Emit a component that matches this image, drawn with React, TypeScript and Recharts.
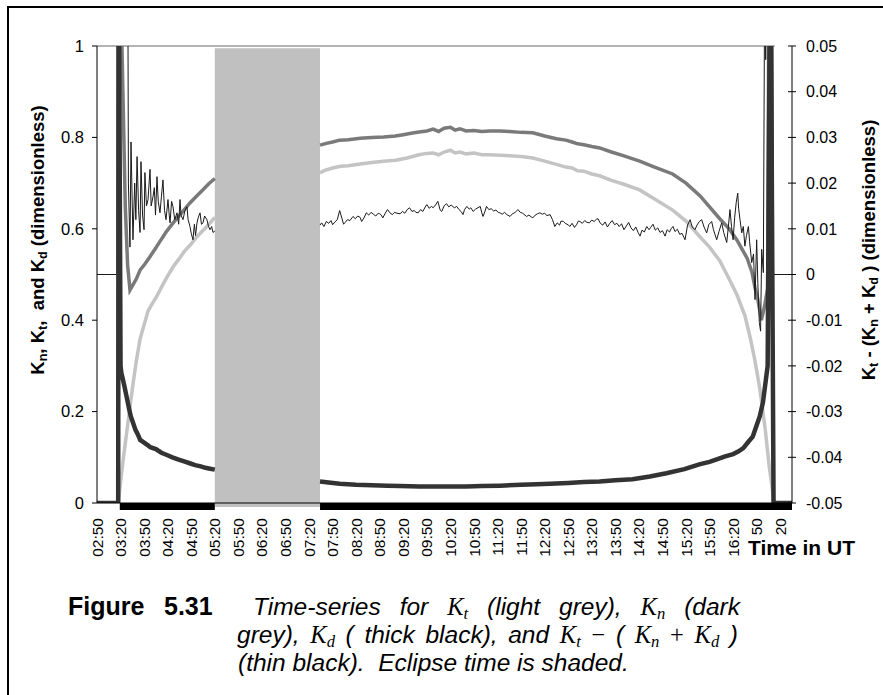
import {
  ComposedChart,
  Line,
  XAxis,
  YAxis,
  ReferenceArea,
  ReferenceLine,
} from "recharts";

// x values are minutes after 02:50 UT
const TICK_MINUTES = [
  0, 30, 60, 90, 120, 150, 180, 210, 240, 270, 300, 330, 360, 390, 420, 450, 480,
  510, 540, 570, 600, 630, 660, 690, 720, 750, 780, 810, 840, 870,
];
const TIME_LABELS = [
  "02:50", "03:20", "03:50", "04:20", "04:50", "05:20", "05:50", "06:20", "06:50",
  "07:20", "07:50", "08:20", "08:50", "09:20", "09:50", "10:20", "10:50", "11:20",
  "11:50", "12:20", "12:50", "13:20", "13:50", "14:20", "14:50", "15:20", "15:50",
  "16:20", "50", "20",
];
const LEFT_TICKS = [0, 0.2, 0.4, 0.6, 0.8, 1];
const RIGHT_TICKS = [-0.05, -0.04, -0.03, -0.02, -0.01, 0, 0.01, 0.02, 0.03, 0.04, 0.05];

const X_END = 885;
const ECLIPSE_START = 150;
const ECLIPSE_END = 284;
const SUNRISE_BAR = 29;
const TOP_LINE_END = 863;

// Kt (light grey)
const KT: [number, number | null][] = [
  [27, 0], [29, 0.03], [31, 0.06], [33, 0.09], [36, 0.13], [39, 0.17], [42, 0.21],
  [45, 0.25], [50, 0.31], [55, 0.36], [60, 0.39], [65, 0.42], [70, 0.435], [76, 0.452],
  [83, 0.475], [90, 0.497], [97, 0.517], [104, 0.533], [111, 0.55], [119, 0.565],
  [126, 0.58], [133, 0.593], [140, 0.605], [146, 0.617], [150, 0.625], [217, null],
  [284, 0.722], [290, 0.728], [300, 0.733], [310, 0.737], [320, 0.738], [335, 0.742],
  [350, 0.745], [365, 0.748], [380, 0.75], [395, 0.755], [410, 0.762], [420, 0.765],
  [428, 0.766], [435, 0.762], [442, 0.768], [450, 0.772], [456, 0.766], [462, 0.768],
  [470, 0.764], [480, 0.766], [490, 0.762], [500, 0.762], [513, 0.761], [525, 0.76],
  [540, 0.758], [555, 0.755], [570, 0.748], [585, 0.741], [597, 0.735], [605, 0.733],
  [612, 0.727], [620, 0.726], [630, 0.72], [640, 0.716], [655, 0.706], [670, 0.698],
  [691, 0.685], [710, 0.665], [733, 0.641], [750, 0.617], [768, 0.582], [780, 0.56],
  [793, 0.53], [805, 0.49], [815, 0.455], [825, 0.41], [832, 0.36], [838, 0.31],
  [844, 0.25], [851, 0.16], [856, 0.08], [860, 0.03], [862, 0],
];

// Kn (dark grey)
const KN: [number, number | null][] = [
  [28, 1.3], [33, 0.9], [36, 0.65], [39, 0.52], [42, 0.466], [45, 0.475], [50, 0.49],
  [55, 0.51], [61, 0.523], [67, 0.538], [74, 0.556], [80, 0.572], [88, 0.593],
  [97, 0.613], [107, 0.633], [118, 0.656], [126, 0.67], [134, 0.684], [142, 0.698],
  [150, 0.71], [217, null],
  [284, 0.783], [292, 0.787], [300, 0.79], [309, 0.794], [320, 0.795], [335, 0.798],
  [350, 0.8], [365, 0.801], [380, 0.803], [390, 0.806], [400, 0.809], [410, 0.812],
  [420, 0.814], [428, 0.818], [435, 0.813], [442, 0.82], [450, 0.822], [456, 0.816],
  [462, 0.819], [470, 0.814], [480, 0.815], [490, 0.813], [500, 0.814], [513, 0.814],
  [525, 0.813], [540, 0.811], [555, 0.81], [570, 0.803], [585, 0.797], [597, 0.794],
  [605, 0.79], [612, 0.786], [620, 0.784], [630, 0.78], [640, 0.777], [655, 0.768],
  [670, 0.76], [691, 0.748], [710, 0.735], [733, 0.72], [750, 0.7], [768, 0.672],
  [780, 0.648], [793, 0.622], [805, 0.6], [815, 0.575], [828, 0.535], [834, 0.505],
  [838, 0.47], [841, 0.45], [843, 0.43], [846, 0.4], [848, 0.415], [850, 0.43],
  [854, 0.47], [856, 1.3],
];

// Kd (thick black)
const KD: [number, number | null][] = [
  [0, 0], [27, 0], [27.5, 1.3], [30, 0.3], [31, 0.285], [33, 0.27], [35, 0.255],
  [38, 0.23], [41, 0.205], [43, 0.19], [46, 0.175], [49, 0.16], [52, 0.15], [55, 0.138],
  [60, 0.132], [65, 0.126], [68, 0.122], [75, 0.118], [82, 0.11], [89, 0.105], [96, 0.1],
  [104, 0.095], [111, 0.091], [118, 0.087], [125, 0.083], [132, 0.08], [138, 0.077],
  [144, 0.075], [150, 0.073], [217, null],
  [284, 0.047], [295, 0.045], [309, 0.042], [330, 0.04], [350, 0.039], [370, 0.038],
  [386, 0.037], [410, 0.036], [430, 0.036], [450, 0.036], [470, 0.036], [490, 0.037],
  [513, 0.038], [540, 0.04], [560, 0.041], [577, 0.042], [600, 0.044], [620, 0.046],
  [640, 0.047], [660, 0.05], [682, 0.052], [704, 0.058], [725, 0.065], [748, 0.074],
  [768, 0.085], [780, 0.09], [790, 0.096], [800, 0.102], [810, 0.107], [817, 0.113],
  [823, 0.12], [830, 0.135], [835, 0.145], [840, 0.17], [844, 0.19], [848, 0.22],
  [851, 0.26], [854, 0.3], [857.5, 1.3], [861.5, 0], [885, 0],
];

// Kt - (Kn + Kd) (thin black, right axis)
const KDIFF: [number, number | null][] = [
  [0, 0], [25.5, 0], [26, 0.08], [39, 0.08], [40, 0.02], [42, 0.006], [43.3, 0.029],
  [45.8, 0.0076], [48, 0.02], [49.5, 0.012], [51, 0.0258], [53, 0.014], [54.8, 0.0092],
  [56, 0.0247], [58, 0.013], [59.9, 0.0098], [61, 0.0223], [63, 0.015], [65, 0.0164],
  [67.5, 0.023], [69, 0.015], [71.3, 0.017], [73, 0.019], [74.5, 0.013], [76.4, 0.0214],
  [78, 0.016], [80.2, 0.0135], [82, 0.017], [84, 0.0207], [86, 0.014], [87.9, 0.012],
  [90.4, 0.0164], [92, 0.013], [93, 0.0113], [95, 0.016], [96.8, 0.0148], [99, 0.012],
  [101.9, 0.0135], [104, 0.011], [105.7, 0.0164], [107, 0.013], [109.5, 0.012],
  [112, 0.014], [114.6, 0.0148], [116, 0.012], [118.4, 0.0105], [120, 0.009],
  [122.2, 0.0076], [124, 0.011], [125.5, 0.0085], [127.3, 0.0113], [129, 0.0125],
  [131.2, 0.0135], [133, 0.011], [135, 0.0113], [137, 0.0128], [140, 0.012],
  [142, 0.0105], [144, 0.0098], [146, 0.0105], [147.7, 0.0092], [150, 0.0095], [217, null],
  [284, 0.0108], [286, 0.0113], [289, 0.0105], [292, 0.0116], [295, 0.0112], [298, 0.0118],
  [300, 0.0109], [303, 0.0115], [306, 0.012], [309, 0.014], [312, 0.0122], [314, 0.011],
  [316, 0.0114], [319, 0.012], [322, 0.0118], [326, 0.0127], [329, 0.0122], [332, 0.0128],
  [335, 0.0125], [337, 0.0116], [340, 0.0124], [343, 0.0135], [346, 0.013], [349, 0.0136],
  [352, 0.0132], [355, 0.0128], [358, 0.0134], [360, 0.0133], [362, 0.013], [364, 0.0124],
  [367, 0.0134], [370, 0.0142], [373, 0.0135], [376, 0.0131], [379, 0.0136], [382, 0.0134],
  [386, 0.0133], [389, 0.0138], [392, 0.0134], [395, 0.0142], [398, 0.0146], [401, 0.0138],
  [404, 0.014], [406, 0.0136], [409, 0.0135], [412, 0.0142], [415, 0.0138], [418, 0.0148],
  [420, 0.0153], [423, 0.0145], [426, 0.0149], [428, 0.0146], [431, 0.0152], [434, 0.016],
  [437, 0.0141], [439, 0.0138], [442, 0.015], [445, 0.0155], [448, 0.0148], [451, 0.0152],
  [455, 0.0146], [458, 0.0149], [461, 0.0142], [464, 0.0137], [466, 0.0131], [468, 0.0142],
  [471, 0.0149], [474, 0.0143], [476, 0.0146], [479, 0.0138], [482, 0.0143], [485, 0.0146],
  [488, 0.0149], [490, 0.0135], [491.5, 0.0127], [494, 0.0138], [496, 0.0149], [499, 0.0142],
  [502, 0.0144], [505, 0.0139], [508, 0.0141], [511, 0.0136], [513, 0.0135], [516, 0.0132],
  [519, 0.0136], [522, 0.0131], [526, 0.0127], [529, 0.0133], [532, 0.0135], [536, 0.0142],
  [539, 0.0136], [542, 0.0134], [545, 0.013], [547, 0.0127], [550, 0.013], [553, 0.0126],
  [555, 0.0124], [558, 0.013], [561, 0.0133], [564, 0.0135], [567, 0.0132], [570, 0.0134],
  [573, 0.0129], [577, 0.0131], [580, 0.012], [583, 0.0105], [586, 0.0113], [589, 0.0108],
  [591, 0.0117], [594, 0.0116], [597, 0.0111], [600, 0.0109], [602, 0.0105], [605, 0.0112],
  [608, 0.0103], [611, 0.011], [613, 0.0117], [615, 0.0116], [618, 0.0112], [621, 0.0118],
  [624, 0.0114], [627, 0.0113], [630, 0.0119], [633, 0.0116], [636, 0.0121], [638, 0.0122],
  [641, 0.0112], [644, 0.0108], [647, 0.0115], [650, 0.0104], [653, 0.0112], [656, 0.0118],
  [659, 0.0109], [662, 0.0112], [665, 0.0105], [668, 0.0111], [671, 0.0098], [674, 0.0106],
  [677, 0.0114], [680, 0.0102], [683, 0.0096], [686, 0.0104], [689, 0.0092], [691.5, 0.0084],
  [694, 0.0097], [697, 0.0093], [700, 0.0105], [703, 0.0098], [705, 0.0103], [708, 0.011],
  [711, 0.0097], [714, 0.0102], [717, 0.0092], [720, 0.0096], [723.4, 0.0084], [726, 0.0098],
  [729, 0.0093], [731, 0.01], [733.5, 0.0105], [736, 0.0094], [739, 0.0099], [742, 0.0088],
  [745, 0.009], [748.8, 0.0076], [752, 0.0108], [755.2, 0.012], [758, 0.0104], [761.5, 0.0098],
  [764, 0.0108], [767, 0.0116], [770, 0.012], [773, 0.0104], [776.4, 0.0091], [779, 0.0109],
  [782.7, 0.0116], [785, 0.0098], [789.1, 0.0076], [792, 0.0094], [795.5, 0.0113],
  [798, 0.0092], [801.9, 0.007], [804, 0.0105], [806, 0.0142], [808, 0.0105], [810, 0.0076],
  [812, 0.0125], [814, 0.0158], [815.9, 0.0178], [817, 0.0145], [818.8, 0.012], [821, 0.0091],
  [823, 0.0105], [825, 0.0062], [827, 0.0085], [829.5, 0.0105], [831, 0.0072],
  [833.7, 0.0026], [836, 0.0045], [837.9, -0.0055], [840, 0.0076], [841.5, -0.002],
  [843.4, -0.0105], [845, -0.0124], [846.4, 0.0055], [848.5, 0.0004], [850.6, 0.08],
  [851.5, 0.047], [852.5, 0.08], [860, 0.08], [861.5, 0], [885, 0],
];

const SANS = '"Liberation Sans", Arial, Helvetica, sans-serif';
const SERIF = '"Liberation Serif", "Times New Roman", serif';

const rows = (pairs: [number, number | null][]) => pairs.map(([m, v]) => ({ m, v }));

const TimeTick = ({ x, y, payload }: any) => {
  const label = TIME_LABELS[TICK_MINUTES.indexOf(payload.value)];
  const ty = y + 15;
  return (
    <text
      x={x}
      y={ty}
      dy="0.36em"
      transform={`rotate(-90, ${x}, ${ty})`}
      textAnchor="end"
      fontSize={15.5}
      fontFamily={SANS}
      fill="#000"
    >
      {label}
    </text>
  );
};

const RightTick = ({ x, y, payload }: any) => (
  <g>
    <line x1={x - 4} x2={x + 4} y1={y} y2={y} stroke="#000" strokeWidth={1} />
    <text x={x + 14} y={y} dy="0.36em" fontSize={16} fontFamily={SANS} fill="#000">
      {payload.value === 0 ? "0" : String(Number(payload.value.toFixed(2)))}
    </text>
  </g>
);

const BaseBar = (props: any) => (
  <line
    x1={props.x1}
    x2={props.x2}
    y1={props.y1 + 3.5}
    y2={props.y2 + 3.5}
    stroke="#000"
    strokeWidth={7}
  />
);

const Sub = ({ children }: { children: string }) => (
  <span style={{ fontSize: "0.68em", position: "relative", top: "0.22em", lineHeight: 1 }}>
    {children}
  </span>
);

const K = ({ s }: { s: string }) => (
  <span style={{ fontFamily: SERIF, fontStyle: "italic", lineHeight: 1 }}>
    K<Sub>{s}</Sub>
  </span>
);

const captionLine = {
  position: "absolute" as const,
  fontStyle: "italic",
  fontSize: 24.5,
  lineHeight: "24px",
  height: 24,
};

export default function App() {
  return (
    <div
      style={{
        position: "absolute",
        left: 0,
        top: 0,
        width: 883,
        height: 695,
        overflow: "hidden",
        background: "#fff",
        fontFamily: SANS,
      }}
    >
      <div
        style={{
          position: "absolute",
          left: 7,
          top: 6,
          width: 900,
          height: 720,
          borderLeft: "2px solid #000",
          borderTop: "2px solid #000",
        }}
      />
      <div style={{ position: "absolute", left: 0, top: 0 }}>
        <ComposedChart
          width={883}
          height={695}
          margin={{ top: 46, right: 0, bottom: 0, left: 0 }}
        >
          <XAxis
            dataKey="m"
            type="number"
            domain={[0, X_END]}
            ticks={TICK_MINUTES}
            interval={0}
            allowDataOverflow
            height={192}
            tickSize={0}
            tickMargin={0}
            tickLine={false}
            axisLine={{ stroke: "#000", strokeWidth: 1 }}
            tick={<TimeTick />}
          />
          <YAxis
            yAxisId="left"
            orientation="left"
            width={97}
            domain={[0, 1]}
            ticks={LEFT_TICKS}
            allowDataOverflow
            tickSize={5}
            tickMargin={8}
            tickLine={{ stroke: "#000" }}
            axisLine={{ stroke: "#000" }}
            tick={{ fontSize: 16.5, fill: "#000", fontFamily: SANS }}
          />
          <YAxis
            yAxisId="right"
            orientation="right"
            width={91}
            domain={[-0.05, 0.05]}
            ticks={RIGHT_TICKS}
            allowDataOverflow
            tickSize={0}
            tickMargin={0}
            tickLine={false}
            axisLine={{ stroke: "#000" }}
            tick={<RightTick />}
          />
          <ReferenceLine
            yAxisId="left"
            segment={[{ x: 0, y: 1 }, { x: TOP_LINE_END, y: 1 }]}
            stroke="#9a9a9a"
            strokeWidth={1.5}
          />
          <Line
            yAxisId="left"
            data={rows(KT)}
            dataKey="v"
            stroke="#c4c4c4"
            strokeWidth={3.5}
            dot={false}
            activeDot={false}
            isAnimationActive={false}
          />
          <Line
            yAxisId="left"
            data={rows(KN)}
            dataKey="v"
            stroke="#7a7a7a"
            strokeWidth={3.5}
            dot={false}
            activeDot={false}
            isAnimationActive={false}
          />
          <Line
            yAxisId="right"
            data={rows(KDIFF)}
            dataKey="v"
            stroke="#1a1a1a"
            strokeWidth={1}
            dot={false}
            activeDot={false}
            isAnimationActive={false}
          />
          <Line
            yAxisId="left"
            data={rows(KD)}
            dataKey="v"
            stroke="#333"
            strokeWidth={4.5}
            dot={false}
            activeDot={false}
            isAnimationActive={false}
          />
          <ReferenceLine
            yAxisId="left"
            segment={[{ x: SUNRISE_BAR, y: 0 }, { x: ECLIPSE_START, y: 0 }]}
            shape={BaseBar}
          />
          <ReferenceLine
            yAxisId="left"
            segment={[{ x: ECLIPSE_END, y: 0 }, { x: X_END, y: 0 }]}
            shape={BaseBar}
          />
          <ReferenceArea
            yAxisId="left"
            x1={ECLIPSE_START}
            x2={ECLIPSE_END}
            y1={-0.009}
            y2={0.995}
            fill="#c0c0c0"
            fillOpacity={1}
            stroke="none"
            ifOverflow="visible"
          />
        </ComposedChart>
      </div>

      <div
        style={{
          position: "absolute",
          left: 38,
          top: 240,
          transform: "translate(-50%, -50%) rotate(-90deg)",
          whiteSpace: "nowrap",
          fontWeight: "bold",
          fontSize: 18.5,
          lineHeight: "20px",
        }}
      >
        K<Sub>n</Sub>, K<Sub>t</Sub>,&nbsp; and K<Sub>d</Sub> (dimensionless)
      </div>
      <div
        style={{
          position: "absolute",
          left: 869,
          top: 250,
          transform: "translate(-50%, -50%) rotate(-90deg)",
          whiteSpace: "nowrap",
          fontWeight: "bold",
          fontSize: 18.5,
          lineHeight: "20px",
        }}
      >
        K<Sub>t</Sub> - (K<Sub>n</Sub> + K<Sub>d</Sub> ) (dimensionless)
      </div>
      <div
        style={{
          position: "absolute",
          left: 748,
          top: 537,
          fontWeight: "bold",
          fontSize: 21,
          lineHeight: "21px",
          whiteSpace: "nowrap",
        }}
      >
        Time in UT
      </div>

      <div
        style={{
          position: "absolute",
          left: 68,
          top: 594,
          fontWeight: "bold",
          fontSize: 25,
          lineHeight: "25px",
          whiteSpace: "nowrap",
        }}
      >
        Figure
      </div>
      <div
        style={{
          position: "absolute",
          left: 164,
          top: 594,
          fontWeight: "bold",
          fontSize: 25,
          lineHeight: "25px",
          whiteSpace: "nowrap",
        }}
      >
        5.31
      </div>
      <div
        style={{
          ...captionLine,
          left: 253,
          top: 595,
          width: 487,
          textAlign: "justify",
          textAlignLast: "justify",
          whiteSpace: "nowrap",
        }}
      >
        Time-series for <K s="t" /> (light grey), <K s="n" /> (dark
      </div>
      <div
        style={{
          ...captionLine,
          left: 237,
          top: 623,
          width: 501,
          textAlign: "justify",
          textAlignLast: "justify",
          whiteSpace: "nowrap",
        }}
      >
        grey), <K s="d" /> ( thick black), and <K s="t" />{" "}
        <span style={{ fontStyle: "normal", fontFamily: SERIF }}>−</span> ( <K s="n" />{" "}
        <span style={{ fontStyle: "normal", fontFamily: SERIF }}>+</span> <K s="d" /> )
      </div>
      <div
        style={{
          ...captionLine,
          left: 238,
          top: 651,
          whiteSpace: "nowrap",
        }}
      >
        (thin black).&nbsp; Eclipse time is shaded.
      </div>
    </div>
  );
}
